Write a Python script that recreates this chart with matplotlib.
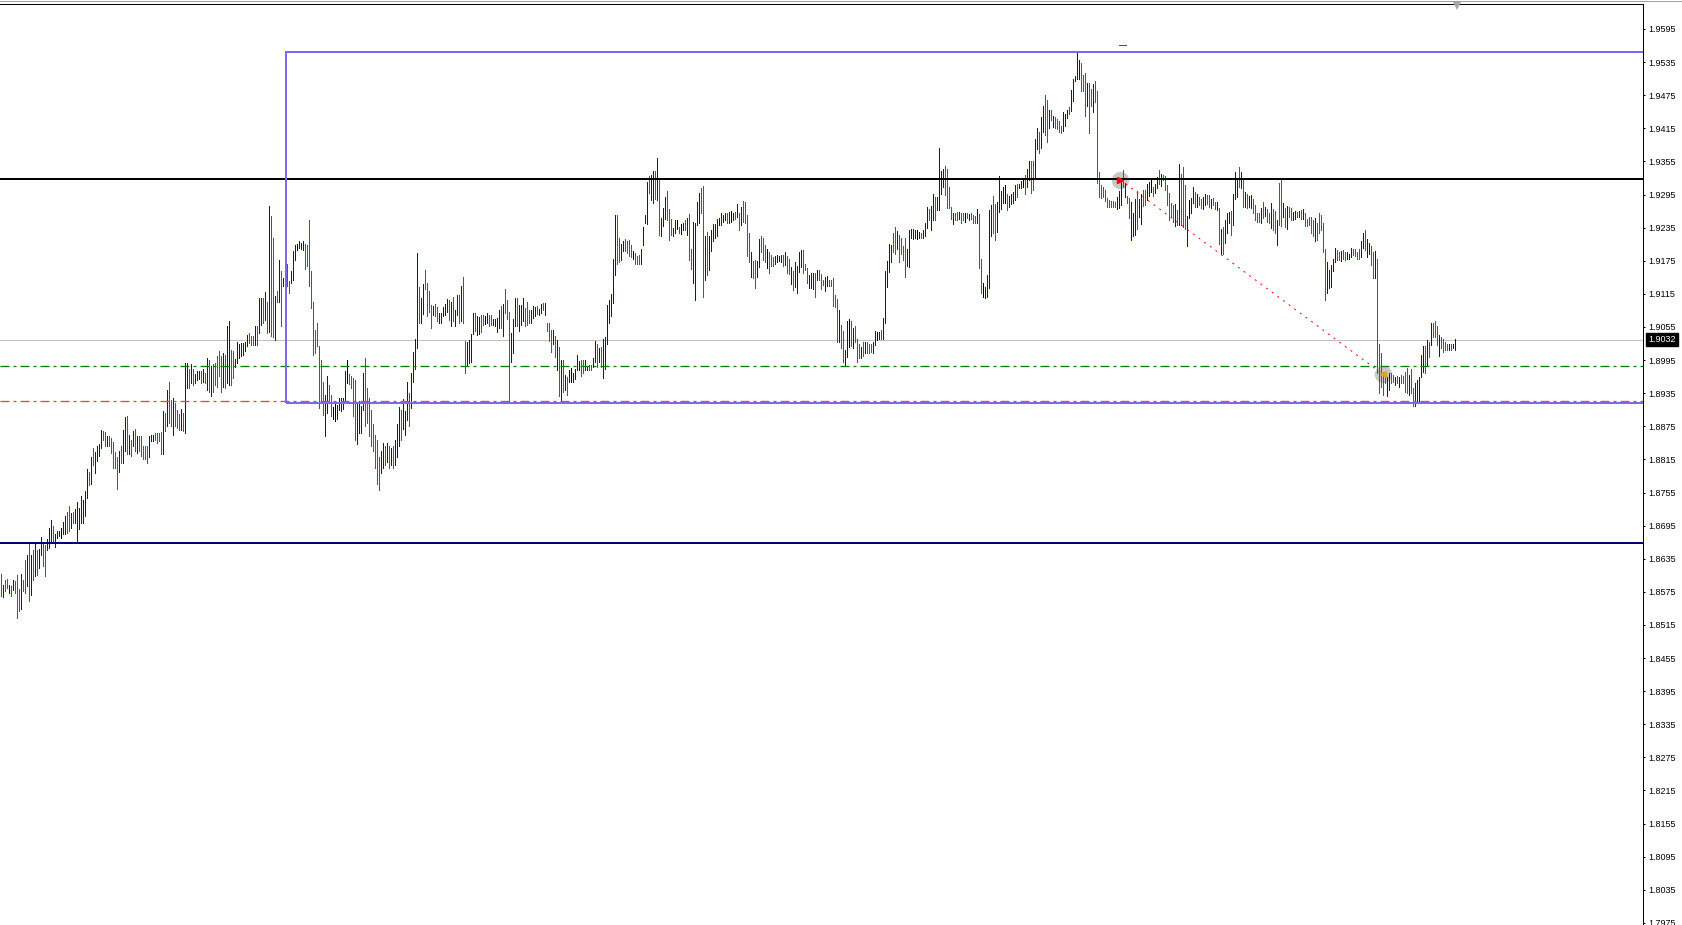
#!/usr/bin/env python3

import matplotlib
matplotlib.use("Agg")
import matplotlib.pyplot as plt
import matplotlib.transforms as mtransforms
from matplotlib.patches import Rectangle
import numpy as np

# bar highs / lows in 1e-4 price units (one bar every 2 px)
BAR_HIGHS = [
    18608, 18588, 18597, 18598, 18588, 18585, 18596, 18594, 18606, 18580,
    18608, 18597, 18632, 18641, 18664, 18642, 18650, 18662, 18651, 18653,
    18674, 18662, 18660, 18670, 18691, 18706, 18694, 18679, 18685, 18685,
    18691, 18701, 18713, 18719, 18731, 18718, 18719, 18725, 18737, 18727,
    18749, 18742, 18757, 18798, 18793, 18819, 18836, 18828, 18840, 18842,
    18869, 18866, 18864, 18857, 18857, 18854, 18846, 18828, 18819, 18830,
    18839, 18869, 18892, 18893, 18860, 18851, 18866, 18870, 18857, 18858,
    18858, 18840, 18839, 18840, 18857, 18860, 18860, 18862, 18863, 18863,
    18864, 18902, 18899, 18941, 18955, 18923, 18926, 18917, 18905, 18898,
    18906, 18899, 18990, 18990, 18979, 18987, 18978, 18970, 18975, 18976,
    18975, 18978, 18972, 18999, 18996, 18984, 18988, 18990, 19002, 19011,
    19002, 19007, 19005, 19057, 19065, 19014, 19011, 18997, 19027, 19025,
    19026, 19026, 19027, 19041, 19044, 19039, 19039, 19057, 19056, 19107,
    19107, 19107, 19118, 19101, 19275, 19257, 19216, 19112, 19120, 19176,
    19156, 19144, 19186, 19170, 19138, 19156, 19192, 19204, 19206, 19210,
    19207, 19210, 19206, 19204, 19249, 19156, 19100, 19050, 19063, 19021,
    18995, 18956, 18932, 18967, 18949, 18932, 18910, 18917, 18914, 18926,
    18926, 18926, 18975, 18995, 18969, 18967, 18963, 18959, 18918, 18920,
    18911, 18972, 18999, 18944, 18926, 18905, 18880, 18860, 18850, 18820,
    18830, 18845, 18840, 18845, 18840, 18835, 18840, 18850, 18880, 18910,
    18905, 18925, 18903, 18956, 18935, 18971, 19010, 19033, 19189, 19128,
    19108, 19133, 19158, 19135, 19120, 19095, 19093, 19097, 19092, 19080,
    19081, 19092, 19097, 19105, 19103, 19101, 19110, 19086, 19113, 19113,
    19129, 19146, 19030, 19028, 19031, 19042, 19081, 19080, 19075, 19073,
    19077, 19077, 19075, 19080, 19077, 19077, 19069, 19069, 19071, 19086,
    19093, 19097, 19123, 19104, 19083, 19044, 19069, 19108, 19107, 19095,
    19095, 19107, 19089, 19101, 19086, 19086, 19093, 19092, 19093, 19087,
    19097, 19098, 19098, 19063, 19062, 19050, 19050, 19039, 19031, 19018,
    18995, 18995, 18968, 18965, 18977, 18980, 18972, 18978, 19004, 18994,
    18996, 18996, 18995, 18984, 18986, 18986, 18998, 19030, 19025, 19016,
    19018, 19034, 19037, 19095, 19103, 19115, 19179, 19258, 19258, 19216,
    19205, 19210, 19214, 19210, 19213, 19204, 19193, 19189, 19184, 19186,
    19196, 19236, 19258, 19318, 19329, 19330, 19338, 19338, 19361, 19323,
    19252, 19270, 19290, 19301, 19268, 19250, 19234, 19249, 19249, 19237,
    19242, 19244, 19248, 19252, 19260, 19196, 19246, 19244, 19282, 19298,
    19306, 19311, 19220, 19228, 19220, 19230, 19242, 19242, 19250, 19252,
    19261, 19258, 19262, 19261, 19264, 19266, 19261, 19264, 19278, 19261,
    19272, 19284, 19282, 19258, 19226, 19191, 19175, 19176, 19175, 19214,
    19220, 19216, 19204, 19196, 19190, 19185, 19181, 19184, 19185, 19184,
    19185, 19185, 19191, 19184, 19179, 19163, 19157, 19173, 19165, 19191,
    19194, 19194, 19169, 19161, 19149, 19152, 19152, 19153, 19159, 19158,
    19151, 19141, 19145, 19147, 19141, 19140, 19143, 19113, 19105, 19086,
    19059, 19047, 19013, 19065, 19069, 19065, 19054, 19056, 19033, 19025,
    19019, 19027, 19028, 19027, 19025, 19025, 19028, 19047, 19045, 19045,
    19050, 19071, 19157, 19175, 19205, 19204, 19226, 19237, 19229, 19222,
    19216, 19202, 19216, 19196, 19230, 19232, 19232, 19231, 19231, 19228,
    19225, 19230, 19244, 19272, 19268, 19274, 19296, 19291, 19291, 19380,
    19338, 19342, 19347, 19341, 19309, 19272, 19262, 19262, 19264, 19264,
    19262, 19262, 19261, 19262, 19260, 19262, 19258, 19256, 19268, 19260,
    19179, 19134, 19128, 19149, 19267, 19276, 19292, 19278, 19282, 19329,
    19302, 19309, 19312, 19296, 19292, 19296, 19300, 19312, 19314, 19314,
    19320, 19323, 19330, 19342, 19356, 19356, 19355, 19395, 19415, 19409,
    19435, 19455, 19475, 19467, 19449, 19448, 19437, 19435, 19431, 19429,
    19419, 19445, 19441, 19449, 19454, 19484, 19504, 19509, 19553, 19539,
    19534, 19512, 19515, 19498, 19498, 19487, 19496, 19500, 19483, 19336,
    19312, 19309, 19303, 19288, 19285, 19284, 19284, 19282, 19291, 19302,
    19318, 19339, 19316, 19292, 19288, 19282, 19261, 19286, 19302, 19286,
    19296, 19304, 19304, 19314, 19318, 19323, 19309, 19314, 19326, 19339,
    19333, 19330, 19329, 19312, 19297, 19279, 19276, 19278, 19267, 19350,
    19333, 19345, 19312, 19256, 19285, 19288, 19309, 19300, 19296, 19291,
    19286, 19291, 19296, 19294, 19294, 19286, 19288, 19282, 19282, 19270,
    19232, 19236, 19249, 19262, 19264, 19266, 19296, 19336, 19323, 19345,
    19335, 19321, 19300, 19296, 19292, 19294, 19286, 19276, 19262, 19261,
    19270, 19282, 19273, 19268, 19261, 19279, 19268, 19266, 19249, 19315,
    19321, 19280, 19270, 19274, 19273, 19270, 19264, 19266, 19264, 19266,
    19267, 19268, 19261, 19250, 19255, 19254, 19249, 19252, 19244, 19261,
    19258, 19243, 19196, 19173, 19158, 19167, 19178, 19198, 19194, 19191,
    19193, 19194, 19190, 19190, 19188, 19199, 19196, 19196, 19191, 19196,
    19210, 19225, 19231, 19214, 19207, 19201, 19191, 19193, 19179, 19025,
    19007, 18974, 18971, 18965, 18971, 18971, 18968, 18965, 18966, 18964,
    18968, 18966, 18974, 18980, 18968, 18978, 18944, 18953, 18959, 18965,
    19004, 19020, 19020, 19031, 19027, 19062, 19063, 19065, 19057, 19040,
    19036, 19034, 19028, 19025, 19024, 19025, 19025, 19034,
]

BAR_LOWS = [
    18567, 18565, 18576, 18582, 18572, 18567, 18578, 18572, 18528, 18540,
    18544, 18576, 18573, 18585, 18558, 18570, 18596, 18604, 18606, 18618,
    18642, 18622, 18604, 18650, 18654, 18663, 18667, 18657, 18673, 18676,
    18673, 18679, 18680, 18682, 18686, 18691, 18700, 18700, 18667, 18688,
    18700, 18700, 18712, 18745, 18769, 18771, 18805, 18790, 18812, 18821,
    18836, 18851, 18839, 18839, 18840, 18827, 18799, 18799, 18761, 18792,
    18808, 18808, 18830, 18824, 18824, 18821, 18839, 18830, 18827, 18830,
    18821, 18816, 18815, 18808, 18819, 18848, 18848, 18850, 18845, 18848,
    18825, 18825, 18866, 18875, 18881, 18876, 18860, 18875, 18872, 18869,
    18868, 18866, 18863, 18944, 18944, 18953, 18950, 18953, 18958, 18961,
    18953, 18956, 18953, 18941, 18938, 18929, 18937, 18949, 18947, 18966,
    18938, 18947, 18944, 18953, 18950, 18950, 18962, 18982, 18990, 18999,
    19002, 19005, 19011, 19020, 19026, 19023, 19023, 19023, 19023, 19044,
    19059, 19063, 19068, 19044, 19045, 19038, 19037, 19031, 19101, 19101,
    19057, 19129, 19127, 19130, 19117, 19135, 19141, 19177, 19195, 19198,
    19196, 19195, 19160, 19165, 19129, 19089, 19005, 19008, 19020, 18908,
    18917, 18896, 18858, 18899, 18917, 18893, 18888, 18884, 18888, 18904,
    18902, 18906, 18923, 18953, 18952, 18944, 18894, 18851, 18842, 18863,
    18863, 18905, 18875, 18881, 18857, 18840, 18830, 18800, 18770, 18760,
    18790, 18800, 18805, 18810, 18800, 18805, 18800, 18805, 18820, 18840,
    18850, 18870, 18860, 18887, 18876, 18909, 18956, 18978, 19016, 19063,
    19063, 19078, 19123, 19074, 19083, 19054, 19076, 19074, 19065, 19063,
    19063, 19074, 19077, 19083, 19068, 19056, 19065, 19056, 19077, 19062,
    19065, 19062, 18972, 18986, 18989, 18992, 19042, 19048, 19041, 19042,
    19045, 19059, 19060, 19063, 19056, 19059, 19059, 19056, 19045, 19054,
    19053, 19038, 19081, 19069, 18917, 18992, 19007, 19056, 19056, 19047,
    19059, 19065, 19056, 19059, 19062, 19063, 19071, 19074, 19079, 19077,
    19081, 19086, 19077, 19048, 19030, 19010, 19025, 19001, 18977, 18929,
    18917, 18938, 18941, 18931, 18956, 18956, 18956, 18960, 18977, 18977,
    18966, 18971, 18977, 18977, 18977, 18977, 18982, 18992, 18982, 18992,
    18982, 18962, 18978, 19025, 19062, 19075, 19098, 19149, 19170, 19173,
    19176, 19193, 19192, 19189, 19184, 19182, 19179, 19170, 19170, 19170,
    19169, 19204, 19243, 19242, 19297, 19285, 19280, 19286, 19285, 19222,
    19219, 19238, 19250, 19249, 19213, 19222, 19220, 19226, 19232, 19225,
    19224, 19231, 19231, 19222, 19176, 19160, 19134, 19104, 19240, 19243,
    19261, 19110, 19140, 19149, 19158, 19192, 19210, 19216, 19220, 19240,
    19240, 19246, 19249, 19244, 19244, 19246, 19249, 19250, 19255, 19230,
    19240, 19246, 19243, 19184, 19172, 19145, 19143, 19125, 19145, 19164,
    19190, 19176, 19173, 19161, 19152, 19165, 19165, 19169, 19173, 19175,
    19173, 19165, 19167, 19152, 19151, 19133, 19122, 19128, 19117, 19155,
    19164, 19153, 19158, 19135, 19125, 19125, 19123, 19110, 19140, 19141,
    19123, 19131, 19121, 19129, 19129, 19129, 19093, 19092, 19028, 19027,
    19016, 18992, 18984, 19000, 19018, 19021, 19016, 19028, 18992, 18998,
    18998, 19002, 19007, 19007, 19008, 19010, 19008, 19022, 19031, 19034,
    19034, 19034, 19062, 19128, 19155, 19173, 19191, 19188, 19196, 19172,
    19188, 19176, 19145, 19166, 19164, 19216, 19214, 19216, 19214, 19216,
    19216, 19217, 19219, 19234, 19248, 19231, 19249, 19249, 19267, 19267,
    19296, 19309, 19294, 19270, 19270, 19250, 19242, 19249, 19249, 19250,
    19244, 19249, 19246, 19252, 19249, 19250, 19243, 19244, 19243, 19161,
    19117, 19110, 19107, 19110, 19125, 19219, 19226, 19213, 19228, 19264,
    19268, 19280, 19279, 19267, 19273, 19278, 19280, 19285, 19291, 19306,
    19306, 19309, 19296, 19309, 19321, 19298, 19304, 19326, 19377, 19370,
    19379, 19409, 19403, 19391, 19415, 19430, 19417, 19415, 19413, 19409,
    19406, 19411, 19419, 19433, 19441, 19447, 19465, 19500, 19504, 19504,
    19483, 19483, 19437, 19455, 19406, 19455, 19445, 19463, 19316, 19290,
    19288, 19291, 19284, 19273, 19273, 19273, 19272, 19273, 19268, 19270,
    19276, 19309, 19291, 19279, 19252, 19213, 19219, 19222, 19232, 19255,
    19242, 19274, 19276, 19285, 19292, 19300, 19292, 19298, 19306, 19314,
    19310, 19321, 19303, 19276, 19249, 19255, 19246, 19238, 19240, 19240,
    19240, 19237, 19232, 19201, 19252, 19262, 19279, 19273, 19273, 19276,
    19270, 19268, 19276, 19278, 19273, 19270, 19276, 19268, 19267, 19205,
    19188, 19187, 19208, 19225, 19244, 19222, 19240, 19286, 19291, 19309,
    19306, 19273, 19273, 19270, 19272, 19270, 19262, 19249, 19246, 19246,
    19244, 19252, 19256, 19246, 19244, 19234, 19231, 19225, 19204, 19240,
    19238, 19254, 19237, 19232, 19255, 19249, 19249, 19250, 19255, 19255,
    19250, 19250, 19238, 19238, 19240, 19225, 19220, 19210, 19213, 19225,
    19231, 19191, 19103, 19116, 19125, 19128, 19157, 19172, 19176, 19176,
    19175, 19178, 19176, 19179, 19179, 19182, 19185, 19184, 19179, 19178,
    19181, 19198, 19194, 19182, 19188, 19167, 19143, 19143, 18971, 18935,
    18947, 18932, 18953, 18929, 18941, 18953, 18956, 18950, 18953, 18947,
    18953, 18953, 18938, 18935, 18932, 18936, 18911, 18911, 18917, 18920,
    18964, 18974, 18971, 18986, 19001, 19022, 19037, 19037, 19022, 19002,
    19016, 19010, 19013, 19013, 19014, 19014, 19016, 19014,
]

# u = close above open (blue), d = close below open (red), n = unchanged (black)
BAR_DIRS = """
duddu duddd uddud ududu udduu uduuu nuudd uduuu uuuud uduuu
uddud ddddu duudu dudud ddddu uuddd dudud duddd uduud uduuu
dudud udddd duduu dduuu uuuud ddudu ududu ddudu duudd uuunu
uuddd ddddd dduud dnnuu uuund ddduu uuddd ddddd uudud uduuu
duuud uuuud uuddd duddu uuuud uduud udduu uuduu ddnud duuuu
duddd uuudu uuddd uuudu ududd dudud ududu nuuuu dduud duudu
duuuu uuudd uuddd dnddd uuuud uudud uuudd duund nudud duuuu
ddudu uuuuu uuudu nudud udddd udduu dddnd dduuu ududd uduuu
udddu uudud dduud ddddu dduun duddd ududd duunu duuuu uddud
ddduu uuunu duuud uuduu uuddd duddu ddndu dddud dnuuu udduu
uundu uuudu unduu dduud uuddu duddd duuud uuuuu dddud duddd
ddddd ddduu ududd uuudu udduu nduud udddd ddudu dddun uudud
duudd uddud uduuu duuud ududu udddd ududd uddud dudud duudu
duddd ddudd ddduu uuudd udduu udddd uuduu ddudd ddduu ddudu
ddddu dduuu uudud udddu ddddu duu
"""

Y_TICKS = [
    1.7975, 1.8035, 1.8095, 1.8155, 1.8215, 1.8275, 1.8335, 1.8395,
    1.8455, 1.8515, 1.8575, 1.8635, 1.8695, 1.8755, 1.8815, 1.8875,
    1.8935, 1.8995, 1.9055, 1.9115, 1.9175, 1.9235, 1.9295, 1.9355,
    1.9415, 1.9475, 1.9535, 1.9595,
]

LAST_PRICE = 1.9032
RESISTANCE = 1.9323
SUPPORT = 1.8664
GREEN_LEVEL = 1.8984
ORANGE_LEVEL = 1.8921
BOX_TOP = 1.9553
BOX_BOTTOM = 1.8917
BOX_START_BAR = 142.7
TREND_BARS = [559.7, 691.3]
TREND_PRICES = [1.9322, 1.8969]
MARK_BARS = [559.2, 562.6]
MARK_PRICE = 1.9566
SHIFT_BAR = 728.3

BAR_COLORS = {"u": "#0000FF", "d": "#DC143C", "n": "#000000"}

PX = 0.72  # one pixel in points at dpi 100


def main() -> None:
    plt.rcParams["font.family"] = ["Liberation Sans", "DejaVu Sans"]
    plt.rcParams["lines.scale_dashes"] = False

    highs = np.array(BAR_HIGHS) / 10000.0
    lows = np.array(BAR_LOWS) / 10000.0
    dirs = "".join(BAR_DIRS.split())
    assert len(highs) == len(lows) == len(dirs), (len(highs), len(lows), len(dirs))
    x = np.arange(len(highs))
    colors = [BAR_COLORS[c] for c in dirs]

    W, H = 1682, 925
    fig = plt.figure(figsize=(W / 100, H / 100), dpi=100)
    ax_right = 1643
    ax_top = 3.5
    ax = fig.add_axes([0, 0, ax_right / W, (H - ax_top) / H])

    # bars
    ax.vlines(x, lows, highs, colors=colors, linewidth=PX, antialiased=False, zorder=3)

    # bid line under the bars
    ax.axhline(LAST_PRICE, color="#C0C0C0", linewidth=PX, zorder=2)

    # order circles under the bars
    ax.plot(TREND_BARS, TREND_PRICES, "o", ms=12.5, color="#C8C8C8",
            markeredgewidth=0, zorder=1)

    # objects
    ax.axhline(RESISTANCE, color="black", linewidth=2 * PX, zorder=5)
    ax.axhline(SUPPORT, color="#000080", linewidth=2 * PX, zorder=5)
    dashdot = (0, (9 * PX, 4 * PX, 3 * PX, 4 * PX))
    ax.axhline(GREEN_LEVEL, color="#008000", linewidth=1.3 * PX,
               linestyle=dashdot, zorder=5)
    ax.axhline(ORANGE_LEVEL, color="#FF4500", linewidth=1.3 * PX,
               linestyle=dashdot, zorder=5)
    box = Rectangle((BOX_START_BAR, BOX_BOTTOM), 2000, BOX_TOP - BOX_BOTTOM,
                    fill=False, edgecolor="#7B68EE", linewidth=2 * PX, zorder=6)
    ax.add_patch(box)

    ax.plot(TREND_BARS, TREND_PRICES, color="#FF0000", linewidth=PX,
            linestyle=(0, (2 * PX, 5 * PX)), zorder=6)
    ax.plot(TREND_BARS[0], TREND_PRICES[0], ">", ms=4, color="#FF0000", zorder=7)
    ax.plot(TREND_BARS[1], TREND_PRICES[1], "<", ms=4, color="#DAA520", zorder=7)
    ax.plot(MARK_BARS, [MARK_PRICE, MARK_PRICE], color="#FF0000",
            linewidth=PX, zorder=6)

    # chart shift marker
    trans = mtransforms.blended_transform_factory(ax.transData, ax.transAxes)
    ax.plot([SHIFT_BAR], [1 - 2.8 / (H - ax_top)], "v", ms=6, color="#A8A8A8",
            markeredgewidth=0, transform=trans, clip_on=False, zorder=7)

    ax.set_xlim(-0.25, (ax_right - 0.5) / 2)
    ax.set_ylim(1.79712, 1.96412)

    for side in ("left", "bottom"):
        ax.spines[side].set_visible(False)
    for side in ("right", "top"):
        ax.spines[side].set_color("black")
        ax.spines[side].set_linewidth(PX)

    ax.set_xticks([])
    ax.yaxis.tick_right()
    ax.set_yticks(Y_TICKS)
    ax.set_yticklabels([f"{v:.4f}" for v in Y_TICKS])
    ax.tick_params(axis="y", direction="out", length=2 * PX, width=PX,
                   pad=2.5, labelsize=6.5, colors="black")

    # current price tag
    tag = mtransforms.blended_transform_factory(ax.transAxes, ax.transData)
    ax.text(1 + 5 / ax_right, LAST_PRICE, f"{LAST_PRICE:.4f}", transform=tag,
            ha="left", va="center", fontsize=6.5, color="white",
            bbox=dict(boxstyle="square,pad=0.25", facecolor="black",
                      edgecolor="black"), zorder=8)

    # window frame line at the very top
    fig.add_artist(plt.Line2D([0, 1], [1 - 0.5 / H, 1 - 0.5 / H],
                              transform=fig.transFigure, color="#A0A0A0",
                              linewidth=PX))

    fig.savefig("out.png", dpi=100, facecolor="white")
    plt.close(fig)


if __name__ == "__main__":
    main()
